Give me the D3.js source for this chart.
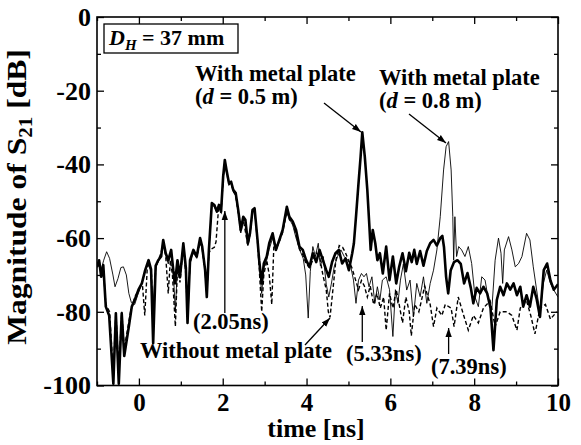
<!DOCTYPE html>
<html><head><meta charset="utf-8">
<script src="https://cdn.jsdelivr.net/npm/d3@7"></script>
<style>
html,body{margin:0;padding:0;background:#fff;}
svg text{font-family:"Liberation Serif","Times New Roman",serif;font-weight:bold;fill:#000;}
</style></head>
<body>
<svg id="c" width="581" height="445"></svg>
<script>
// ---- data ----
const xMajorTicks = [0, 2, 4, 6, 8, 10];
const xMinorTicks = [-1, 1, 3, 5, 7, 9];
const yMajorTicks = [0, -20, -40, -60, -80, -100];
const yMinorTicks = [-10, -30, -50, -70, -90];

// With metal plate, d = 0.5 m (thick line): [time ns, dB]
const withPlate05 = [[-1,-67.8],[-0.95,-66],[-0.9,-70.5],[-0.85,-67.3],[-0.79,-78.6],[-0.71,-81],[-0.61,-99.5],[-0.55,-80.4],[-0.48,-99.5],[-0.41,-80.4],[-0.35,-92],[-0.29,-87.6],[-0.24,-84],[-0.17,-78.6],[-0.1,-76.8],[-0.01,-74],[0.07,-72.3],[0.15,-68.7],[0.23,-66],[0.29,-68.5],[0.34,-88.5],[0.4,-67.5],[0.46,-66],[0.53,-65],[0.58,-60.5],[0.64,-64.1],[0.7,-66],[0.77,-63.2],[0.82,-68.7],[0.86,-72.3],[0.92,-66],[0.98,-70.5],[1.06,-61.4],[1.12,-68],[1.16,-83],[1.22,-66],[1.3,-63.2],[1.38,-65],[1.46,-60],[1.51,-62.3],[1.58,-68.7],[1.62,-76],[1.67,-63.2],[1.74,-50.5],[1.8,-51],[1.86,-52.8],[1.91,-51],[1.96,-52.8],[2.01,-43.3],[2.05,-38.8],[2.09,-41.5],[2.15,-45.1],[2.2,-44.7],[2.25,-46.9],[2.31,-47.8],[2.37,-52.4],[2.43,-57.8],[2.49,-54.2],[2.54,-55],[2.6,-61.4],[2.65,-58.7],[2.71,-52.4],[2.76,-51.9],[2.83,-60.5],[2.87,-66],[2.93,-72.3],[2.98,-66.9],[3.05,-65],[3.11,-61.4],[3.19,-58.7],[3.27,-63.2],[3.35,-60.5],[3.43,-57.8],[3.53,-51.5],[3.59,-54.2],[3.67,-55.5],[3.75,-57.8],[3.83,-62.3],[3.91,-63.2],[3.99,-66],[4.07,-67.8],[4.15,-64.1],[4.23,-66.5],[4.31,-63.2],[4.39,-66],[4.47,-68.7],[4.53,-70.5],[4.61,-66.5],[4.69,-64.1],[4.77,-63.2],[4.85,-66.9],[4.93,-65.5],[5.01,-68.7],[5.09,-64.1],[5.13,-61.4],[5.18,-54.2],[5.24,-45.1],[5.29,-37.9],[5.33,-31.3],[5.39,-37.9],[5.45,-46.9],[5.5,-56.9],[5.53,-63.2],[5.58,-57.8],[5.64,-61.4],[5.69,-66],[5.75,-64.1],[5.82,-69.6],[5.9,-62.3],[5.98,-71.4],[6.06,-65],[6.14,-72.3],[6.21,-67.8],[6.29,-64.1],[6.37,-69],[6.45,-64],[6.51,-66.5],[6.57,-63.2],[6.63,-67],[6.71,-63.5],[6.79,-67.5],[6.87,-63.5],[6.95,-61.4],[7.03,-60.5],[7.11,-62],[7.19,-60],[7.24,-59.4],[7.28,-62.5],[7.33,-70.5],[7.38,-75],[7.44,-68.7],[7.52,-66.5],[7.6,-66],[7.68,-67],[7.76,-72.3],[7.84,-69.5],[7.92,-73.5],[7.98,-77.7],[8.06,-73.5],[8.14,-75],[8.22,-73.2],[8.31,-75],[8.39,-79],[8.46,-90.4],[8.54,-76.8],[8.62,-73.2],[8.7,-75.5],[8.78,-72.3],[8.86,-74],[8.94,-72.3],[9.02,-75.5],[9.1,-73.2],[9.17,-78.6],[9.25,-75.5],[9.33,-78.6],[9.41,-73.2],[9.49,-76.5],[9.57,-81.4],[9.66,-68.7],[9.74,-66.9],[9.82,-71.5],[9.9,-74],[10,-72.5]];

// With metal plate, d = 0.8 m (thin line)
const withPlate08 = [[-1,-67.8],[-0.95,-66],[-0.9,-68.5],[-0.84,-66],[-0.77,-63.7],[-0.7,-65.5],[-0.62,-70],[-0.57,-73.2],[-0.5,-71],[-0.43,-68],[-0.37,-67.8],[-0.3,-70],[-0.24,-75],[-0.18,-77.5],[-0.1,-78],[-0.03,-75.5],[0.05,-73],[0.15,-69],[0.22,-66.5],[0.29,-69],[0.33,-79],[0.4,-68],[0.46,-66.5],[0.53,-65],[0.58,-61],[0.64,-64.5],[0.7,-67],[0.77,-63.5],[0.82,-69],[0.87,-80],[0.92,-67],[0.98,-71],[1.06,-62],[1.12,-69],[1.17,-82],[1.22,-66.5],[1.3,-64],[1.38,-65.5],[1.46,-60.5],[1.51,-62.5],[1.58,-69],[1.62,-76],[1.67,-63.5],[1.74,-51],[1.8,-51.5],[1.86,-53],[1.91,-51.5],[1.96,-53],[2.01,-44],[2.05,-39.5],[2.09,-42],[2.15,-45.5],[2.2,-45],[2.25,-47.5],[2.31,-48.5],[2.37,-53],[2.43,-58.5],[2.49,-54.5],[2.54,-55.5],[2.6,-62],[2.65,-59],[2.71,-53],[2.76,-52.5],[2.83,-60],[2.87,-67],[2.93,-75],[2.98,-68],[3.05,-66],[3.11,-63],[3.19,-60],[3.27,-63.5],[3.35,-61],[3.43,-58],[3.53,-53.3],[3.6,-55],[3.67,-56.5],[3.75,-60],[3.83,-63],[3.92,-65.5],[3.98,-70],[4.04,-81.7],[4.09,-69],[4.15,-62.3],[4.21,-65],[4.28,-61.4],[4.33,-67.5],[4.4,-65],[4.47,-72.5],[4.53,-76],[4.59,-72.5],[4.66,-67.8],[4.74,-65],[4.82,-63.2],[4.9,-65],[4.98,-66],[5.04,-66.9],[5.12,-71.4],[5.18,-77.7],[5.24,-71.4],[5.31,-69.6],[5.37,-70.5],[5.43,-69.6],[5.49,-73.2],[5.56,-70.5],[5.63,-77.7],[5.69,-73.2],[5.75,-76.8],[5.81,-71.4],[5.9,-70.5],[5.98,-74],[6.06,-86.7],[6.12,-74],[6.18,-77.7],[6.24,-71.4],[6.31,-67],[6.39,-74.1],[6.47,-71.4],[6.55,-81.4],[6.63,-72.3],[6.71,-75.9],[6.79,-70.5],[6.87,-77.7],[6.95,-72.3],[7.03,-68.7],[7.11,-63.2],[7.19,-54.2],[7.27,-41.5],[7.33,-35.2],[7.39,-33.8],[7.45,-41.5],[7.49,-54.2],[7.51,-66],[7.54,-54.2],[7.58,-65],[7.63,-62.3],[7.7,-63.2],[7.78,-65],[7.86,-62.3],[7.94,-66.9],[8.02,-76],[8.1,-78.6],[8.18,-70.5],[8.26,-71.4],[8.34,-76.8],[8.42,-79.5],[8.5,-66],[8.58,-60],[8.64,-64.1],[8.68,-72.3],[8.72,-63.2],[8.82,-59.6],[8.9,-63.2],[8.98,-67.8],[9.06,-66.9],[9.14,-65],[9.25,-58.7],[9.33,-60.5],[9.41,-67.8],[9.49,-74.1],[9.57,-80.4],[9.65,-72.3],[9.73,-68.7],[9.82,-72.3],[9.9,-74.1],[10,-76]];

// Without metal plate (dashed line)
const withoutPlate = [[-1,-68],[-0.95,-66],[-0.9,-70],[-0.85,-68],[-0.79,-78],[-0.7,-80],[-0.61,-97],[-0.55,-80],[-0.48,-96],[-0.41,-80],[-0.35,-90],[-0.29,-86],[-0.2,-80],[-0.1,-76],[0,-74],[0.08,-72],[0.14,-81],[0.2,-68],[0.25,-67],[0.3,-70],[0.34,-85],[0.4,-68],[0.46,-66],[0.53,-64],[0.58,-61],[0.64,-65],[0.7,-75],[0.75,-66],[0.8,-70],[0.87,-84],[0.92,-68],[0.98,-72],[1.06,-62],[1.12,-70],[1.16,-80],[1.22,-67],[1.3,-63.5],[1.38,-65],[1.46,-61],[1.51,-63],[1.58,-69],[1.62,-75],[1.67,-64],[1.72,-63],[1.8,-62.5],[1.84,-61],[1.9,-52],[1.96,-53],[2.01,-44],[2.05,-39.5],[2.09,-42],[2.15,-45.5],[2.2,-45],[2.25,-47],[2.31,-48.5],[2.37,-53],[2.43,-58.5],[2.49,-55],[2.6,-62],[2.65,-59],[2.71,-53],[2.76,-52.5],[2.83,-61],[2.87,-68],[2.93,-80],[2.98,-70],[3.05,-66],[3.11,-70],[3.17,-78],[3.22,-62],[3.3,-62],[3.35,-61],[3.43,-58.5],[3.53,-52.5],[3.59,-55],[3.67,-56],[3.75,-59],[3.83,-63],[3.91,-64.5],[3.99,-67],[4.07,-68],[4.15,-66],[4.23,-64],[4.31,-65],[4.39,-70],[4.47,-74],[4.52,-80],[4.56,-81.5],[4.62,-75],[4.7,-66],[4.78,-62],[4.86,-62.5],[4.93,-64],[5,-66],[5.08,-68],[5.16,-71],[5.24,-74],[5.31,-71.5],[5.38,-73],[5.45,-76],[5.52,-73],[5.6,-78],[5.68,-75],[5.76,-79],[5.84,-76],[5.9,-85],[5.98,-75],[6.06,-79],[6.14,-74],[6.21,-78],[6.29,-83],[6.37,-76],[6.45,-80],[6.5,-86.5],[6.58,-78],[6.68,-80],[6.82,-73],[6.95,-78],[7.03,-84],[7.11,-79],[7.23,-81],[7.31,-78],[7.45,-79],[7.52,-84],[7.62,-76],[7.75,-81],[7.86,-85],[7.98,-81],[8.1,-83],[8.22,-79],[8.38,-77],[8.5,-84],[8.62,-80],[8.78,-80],[8.9,-81],[9.02,-85],[9.1,-79],[9.25,-77],[9.35,-81],[9.45,-86],[9.57,-79],[9.7,-78],[9.82,-82],[9.97,-80]];

// ---- chart ----
const svg = d3.select("#c");
const L = 97, R = 558, T = 17, B = 385.5;
const x = d3.scaleLinear().domain([-1, 10]).range([L, R]);
const y = d3.scaleLinear().domain([-100, 0]).range([B, T]);
const fmt = d => String(d); // plain hyphen-minus like the reference

svg.append("defs").append("clipPath").attr("id","clip")
  .append("rect").attr("x",L).attr("y",T).attr("width",R-L).attr("height",B-T);

const line = d3.line().x(d => x(d[0])).y(d => y(d[1]));
const g = svg.append("g").attr("clip-path","url(#clip)");
g.append("path").datum(withoutPlate).attr("d", line).attr("fill","none")
  .attr("stroke","#000").attr("stroke-width",1.4).attr("stroke-dasharray","4,2.5");
g.append("path").datum(withPlate08).attr("d", line).attr("fill","none")
  .attr("stroke","#000").attr("stroke-width",0.9);
g.append("path").datum(withPlate05).attr("d", line).attr("fill","none")
  .attr("stroke","#000").attr("stroke-width",2.6).attr("stroke-linejoin","round");

function styleAxis(sel, fs){
  sel.select(".domain").remove();
  sel.selectAll(".tick line").attr("stroke","#000").attr("stroke-width",1.3);
  sel.selectAll(".tick text").style("font-size", fs + "px");
}
// bottom
svg.append("g").attr("transform",`translate(0,${B})`)
  .call(d3.axisBottom(x).tickValues(xMajorTicks).tickSize(-7).tickPadding(8).tickFormat(fmt))
  .call(s => styleAxis(s, 25));
svg.append("g").attr("transform",`translate(0,${B})`)
  .call(d3.axisBottom(x).tickValues(xMinorTicks).tickSize(-4).tickFormat(""))
  .call(s => styleAxis(s, 25));
// top
svg.append("g").attr("transform",`translate(0,${T})`)
  .call(d3.axisTop(x).tickValues(xMajorTicks).tickSize(-7).tickFormat(""))
  .call(s => styleAxis(s, 25));
svg.append("g").attr("transform",`translate(0,${T})`)
  .call(d3.axisTop(x).tickValues(xMinorTicks).tickSize(-4).tickFormat(""))
  .call(s => styleAxis(s, 25));
// left
svg.append("g").attr("transform",`translate(${L},0)`)
  .call(d3.axisLeft(y).tickValues(yMajorTicks).tickSize(-7).tickPadding(6).tickFormat(fmt))
  .call(s => styleAxis(s, 26));
svg.append("g").attr("transform",`translate(${L},0)`)
  .call(d3.axisLeft(y).tickValues(yMinorTicks).tickSize(-4).tickFormat(""))
  .call(s => styleAxis(s, 26));
// right
svg.append("g").attr("transform",`translate(${R},0)`)
  .call(d3.axisRight(y).tickValues(yMajorTicks).tickSize(-7).tickFormat(""))
  .call(s => styleAxis(s, 26));
svg.append("g").attr("transform",`translate(${R},0)`)
  .call(d3.axisRight(y).tickValues(yMinorTicks).tickSize(-4).tickFormat(""))
  .call(s => styleAxis(s, 26));

// frame
svg.append("rect").attr("x",L).attr("y",T).attr("width",R-L).attr("height",B-T)
  .attr("fill","none").attr("stroke","#000").attr("stroke-width",1.6);

// axis titles
svg.append("text").attr("x",316).attr("y",437).attr("text-anchor","middle")
  .style("font-size","26px").text("time [ns]");
const yl = svg.append("text").attr("transform","translate(26,197) rotate(-90) scale(1.17,1)")
  .attr("text-anchor","middle").style("font-size","27px");
yl.append("tspan").text("Magnitude of S");
yl.append("tspan").attr("dy",6).style("font-size","18px").text("21");
yl.append("tspan").attr("dy",-6).text(" [dB]");

// D_H box
svg.append("rect").attr("x",104).attr("y",24).attr("width",134).attr("height",29)
  .attr("fill","#fff").attr("stroke","#000").attr("stroke-width",1.3);
const dh = svg.append("text").attr("x",109).attr("y",45).style("font-size","22px");
dh.append("tspan").style("font-style","italic").text("D");
dh.append("tspan").style("font-style","italic").style("font-size","15px").attr("dy",5).text("H");
dh.append("tspan").attr("dy",-5).text(" = 37 mm");

// annotations
const fs = "22.5px";
function label2(xp, y1, y2, dval){
  svg.append("text").attr("x",xp).attr("y",y1).style("font-size",fs).text("With metal plate");
  const t = svg.append("text").attr("x",xp).attr("y",y2).style("font-size",fs);
  t.append("tspan").text("(");
  t.append("tspan").style("font-style","italic").text("d");
  t.append("tspan").text(` = ${dval} m)`);
}
label2(195, 81, 104, "0.5");
label2(379, 85, 108, "0.8");

svg.append("text").attr("x",193).attr("y",329).style("font-size",fs).text("(2.05ns)");
svg.append("text").attr("x",140).attr("y",358).style("font-size",fs).text("Without metal plate");
svg.append("text").attr("x",346).attr("y",361).style("font-size",fs).text("(5.33ns)");
svg.append("text").attr("x",431).attr("y",374).style("font-size",fs).text("(7.39ns)");

// arrows
const defs = svg.select("defs");
defs.append("marker").attr("id","ah").attr("viewBox","0 0 10 10").attr("refX",10).attr("refY",5)
  .attr("markerWidth",9).attr("markerHeight",9).attr("markerUnits","userSpaceOnUse").attr("orient","auto")
  .append("path").attr("d","M0,1.5 L10,5 L0,8.5 Z").attr("fill","#000");
function arrow(x1,y1,x2,y2){
  svg.append("line").attr("x1",x1).attr("y1",y1).attr("x2",x2).attr("y2",y2)
    .attr("stroke","#000").attr("stroke-width",1.3).attr("marker-end","url(#ah)");
}
arrow(324,103,361,132);
arrow(409,114,446,143);
arrow(x(2.05),313,x(2.05),211);
arrow(x(5.33),342,x(5.33),306);
arrow(x(7.39),354,x(7.39),328);
arrow(305,345,330,318);
</script>
</body></html>
